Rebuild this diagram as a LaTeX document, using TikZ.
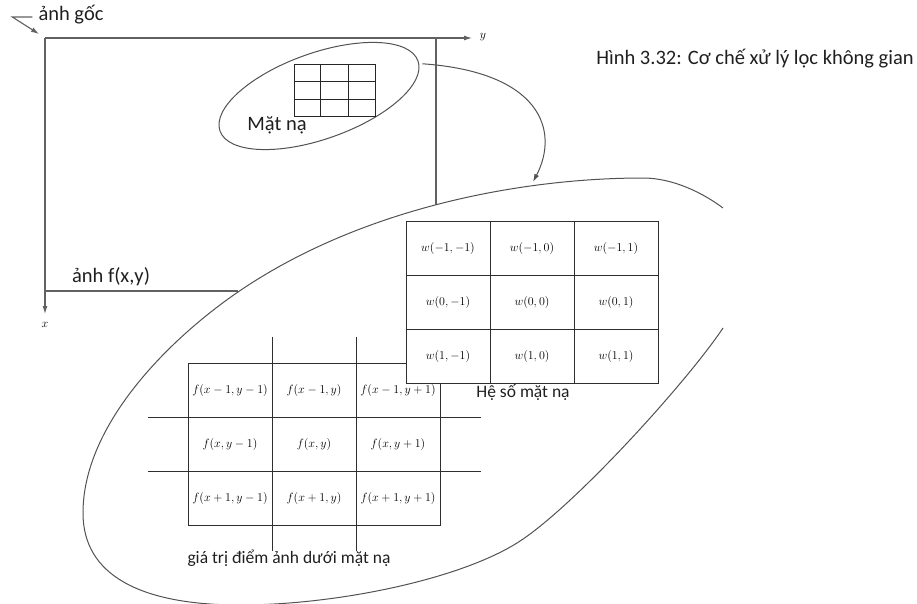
\documentclass[tikz,border=0pt]{standalone}
\usepackage[no-math]{fontspec}
\newfontfamily\viet{Carlito}
\usetikzlibrary{shapes.geometric,arrows.meta}
\tikzstyle{frame} = [draw=black!62, line width=1.1pt]
\tikzstyle{oval} = [draw=black!68, line width=1pt]
\tikzstyle{arr} = [-{Latex[length=8pt,width=5pt]}]
\tikzstyle{cell} = [draw=black!82, line width=1pt, minimum width=84pt, minimum height=54pt, inner sep=0pt, font=\fontsize{12}{14}\selectfont]
\tikzstyle{wcell} = [cell, fill=white]
\tikzstyle{lbl} = [inner sep=0pt, text=black!88, font=\viet\fontsize{20.5}{24}\selectfont]
\tikzstyle{slbl} = [lbl, font=\viet\fontsize{17.5}{21}\selectfont]
\tikzstyle{axis} = [inner sep=0pt, font=\fontsize{13}{15}\selectfont]

\begin{document}
\begin{tikzpicture}[x=1pt, y=-1pt]
	\useasboundingbox (0,0) rectangle (917,604);

	% original image with its axes
	\coordinate (o) at (45,38);
	\coordinate (yend) at (472,38);
	\coordinate (xend) at (45,314);
	\coordinate (tr) at (436,38);
	\coordinate (trcut) at (436,205);
	\coordinate (bl) at (45,291);
	\coordinate (blcut) at (238,291);
	\draw[frame, arr] (o) -- (yend);
	\draw[frame, arr] (o) -- (xend);
	\draw[frame] (tr) -- (trcut);
	\draw[frame] (bl) -- (blcut);
	\node[axis] (ylbl) at (483,37) {$y$};
	\node[axis] (xlbl) at (45,325) {$x$};

	\node[lbl] (anhgoc) at (71,15) {ảnh gốc};
	\coordinate (goctip) at (39,34);
	\draw[frame, arr] ([xshift=-6pt, yshift=-2pt]anhgoc.west) -- ++(-20,0) -- (goctip);
	\node[lbl] (anhf) at (111,277) {ảnh f(x,y)};
	\node[lbl] (caption) at (755,59) {Hình 3.32: Cơ chế xử lý lọc không gian};

	% mask inside the image
	\node[oval, ellipse, minimum width=210pt, minimum height=86pt, inner sep=0pt, rotate=19.5] (mask) at (319,96) {};
	\node[draw=black!85, line width=1pt, minimum width=81pt, minimum height=52.5pt, inner sep=0pt] (mgrid) at (334.5,90.5) {};
	\draw[black!85, line width=1pt] ([xshift=27pt]mgrid.north west) -- ([xshift=27pt]mgrid.south west);
	\draw[black!85, line width=1pt] ([xshift=-27pt]mgrid.north east) -- ([xshift=-27pt]mgrid.south east);
	\draw[black!85, line width=1pt] ([yshift=-17.5pt]mgrid.north west) -- ([yshift=-17.5pt]mgrid.north east);
	\draw[black!85, line width=1pt] ([yshift=17.5pt]mgrid.south west) -- ([yshift=17.5pt]mgrid.south east);
	\node[lbl] (matna) at (277,125) {Mặt nạ};

	% enlarged view
	\draw[oval] (723,328) .. controls (686.9,382.1) and (572.3,508.6) .. (517,543)
		.. controls (457.5,580.1) and (335,605) .. (240,605)
		.. controls (140,605) and (83,575) .. (83,513)
		.. controls (83,423) and (172,337.2) .. (238,292)
		.. controls (361.8,207.3) and (523,178) .. (643,178)
		.. controls (673,178) and (703,193) .. (723,208);
	\coordinate (zoomtip) at (533,182);
	\draw[oval, arr] ([xshift=4pt, yshift=-3pt]mask.east) .. controls (540,72) and (560,130) .. (zoomtip);

	% pixel values under the mask
	\node[cell] (f11) at (230,390) {$f(x-1,y-1)$};
	\node[cell] (f12) at (314,390) {$f(x-1,y)$};
	\node[cell] (f13) at (398,390) {$f(x-1,y+1)$};
	\node[cell] (f21) at (230,444) {$f(x,y-1)$};
	\node[cell] (f22) at (314,444) {$f(x,y)$};
	\node[cell] (f23) at (398,444) {$f(x,y+1)$};
	\node[cell] (f31) at (230,498) {$f(x+1,y-1)$};
	\node[cell] (f32) at (314,498) {$f(x+1,y)$};
	\node[cell] (f33) at (398,498) {$f(x+1,y+1)$};
	\draw[black!82, line width=1pt] ([yshift=26pt]f11.north east) -- ([yshift=-25pt]f31.south east);
	\draw[black!82, line width=1pt] ([yshift=26pt]f12.north east) -- ([yshift=-25pt]f32.south east);
	\draw[black!82, line width=1pt] ([xshift=-40pt]f11.south west) -- ([xshift=40pt]f13.south east);
	\draw[black!82, line width=1pt] ([xshift=-40pt]f21.south west) -- ([xshift=40pt]f23.south east);
	\node[slbl] (giatri) at (289,558) {giá trị điểm ảnh dưới mặt nạ};

	% mask coefficients
	\node[wcell] (w11) at (448,248) {$w(-1,-1)$};
	\node[wcell] (w12) at (532,248) {$w(-1,0)$};
	\node[wcell] (w13) at (616,248) {$w(-1,1)$};
	\node[wcell] (w21) at (448,302) {$w(0,-1)$};
	\node[wcell] (w22) at (532,302) {$w(0,0)$};
	\node[wcell] (w23) at (616,302) {$w(0,1)$};
	\node[wcell] (w31) at (448,356) {$w(1,-1)$};
	\node[wcell] (w32) at (532,356) {$w(1,0)$};
	\node[wcell] (w33) at (616,356) {$w(1,1)$};
	\node[slbl] (heso) at (523,392) {Hệ số mặt nạ};
\end{tikzpicture}
\end{document}
